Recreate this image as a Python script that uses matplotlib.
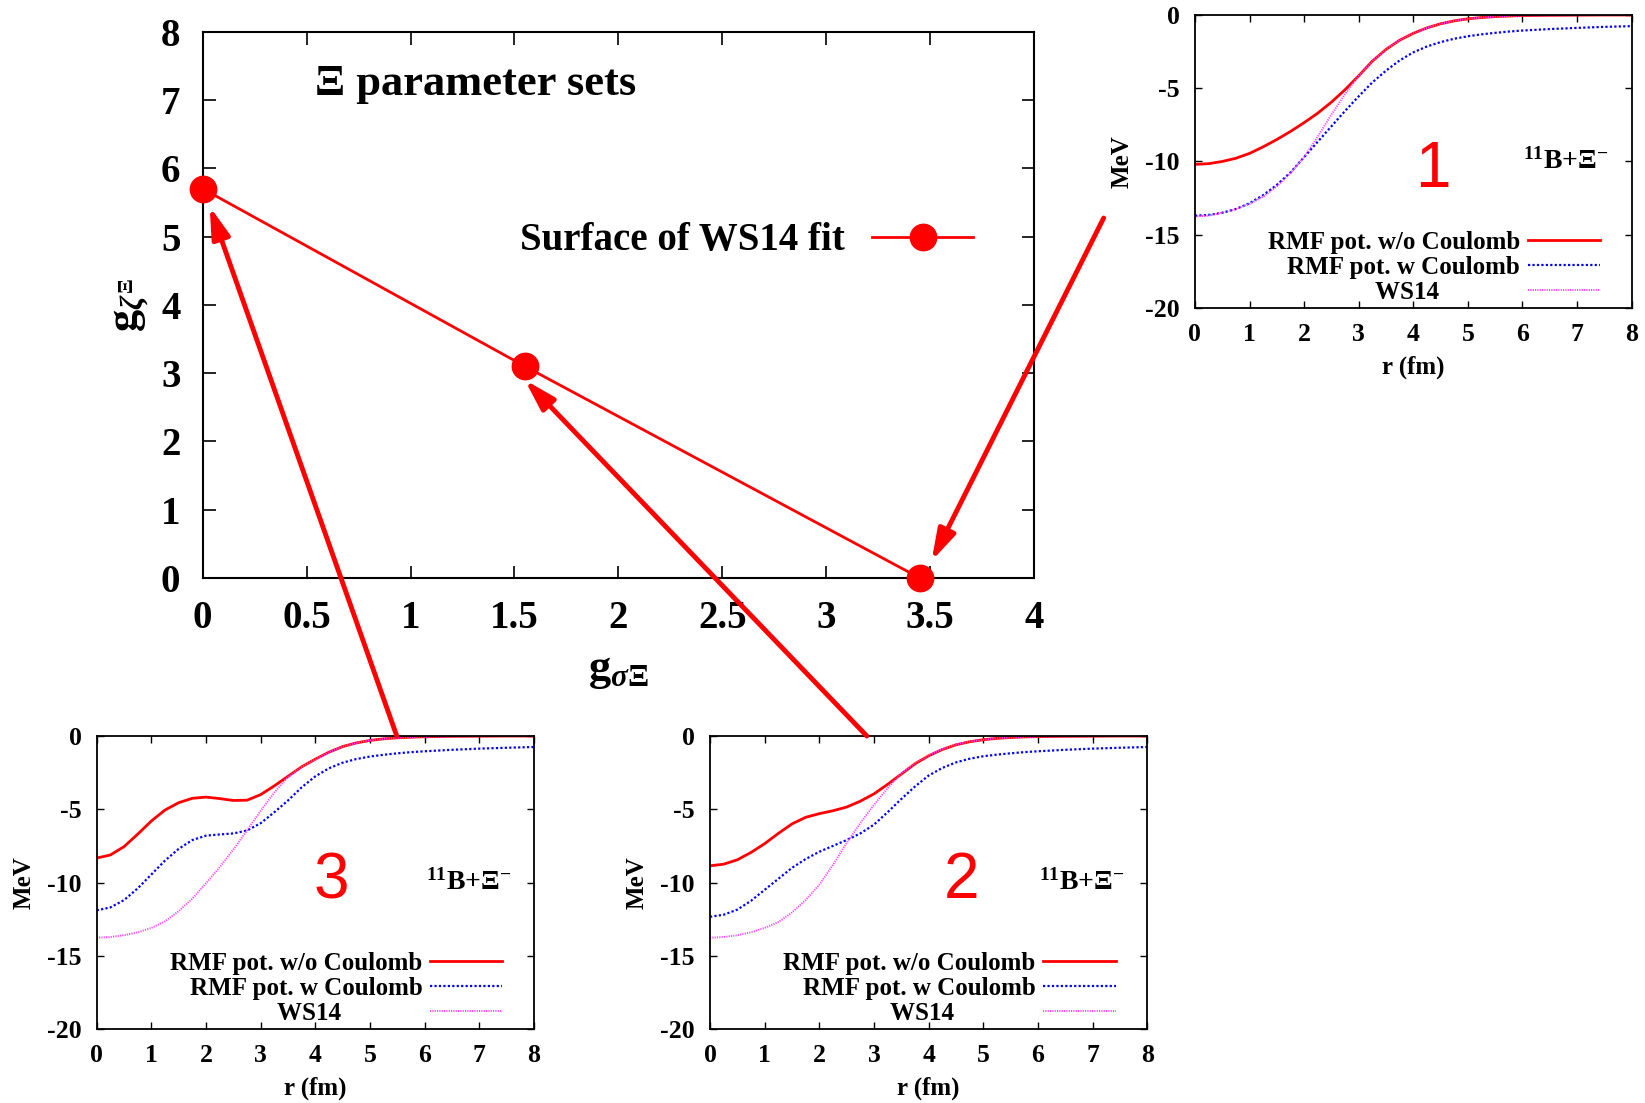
import numpy as np
import matplotlib
matplotlib.use("Agg")
import matplotlib.pyplot as plt
from matplotlib.patches import ConnectionPatch

plt.rcParams['font.family'] = ['Liberation Serif', 'DejaVu Serif']
plt.rcParams['font.weight'] = 'bold'
plt.rcParams['axes.labelweight'] = 'bold'
plt.rcParams['axes.unicode_minus'] = False
plt.rcParams['mathtext.fontset'] = 'custom'
plt.rcParams['mathtext.rm'] = 'Liberation Serif:bold'
plt.rcParams['mathtext.it'] = 'Liberation Serif:italic:bold'
plt.rcParams['mathtext.bf'] = 'Liberation Serif:bold'

# main panel: parameter sets on the WS14 surface
g_sigma = [0.0, 1.55, 3.45]
g_zeta = [5.7, 3.1, 0.0]

# radial grid for the potentials (fm)
r = [0, 0.25, 0.5, 0.75, 1.0, 1.25, 1.5, 1.75, 2.0, 2.25, 2.5, 2.75, 3.0,
     3.25, 3.5, 3.75, 4.0, 4.25, 4.5, 4.75, 5.0, 5.25, 5.5, 5.75, 6.0,
     6.5, 7.0, 7.5, 8.0]

# set 1
nocoul_1 = [-10.2, -10.15, -10.0, -9.78, -9.45, -9.0, -8.5, -7.95, -7.35, -6.7, -5.95, -5.1, -4.15,
            -3.15, -2.35, -1.72, -1.25, -0.88, -0.6, -0.4, -0.26, -0.17, -0.11, -0.07, -0.04,
            -0.02, -0.01, 0.0, 0.0]
coul_1 = [-13.7, -13.65, -13.5, -13.25, -12.85, -12.3, -11.6, -10.75, -9.7, -8.65, -7.6, -6.55, -5.55,
          -4.6, -3.8, -3.1, -2.55, -2.15, -1.85, -1.62, -1.45, -1.32, -1.22, -1.13, -1.06,
          -0.96, -0.88, -0.81, -0.76]
ws_1 = [-13.75, -13.7, -13.5, -13.25, -12.9, -12.4, -11.7, -10.8, -9.7, -8.3, -6.8, -5.4, -4.15,
        -3.15, -2.35, -1.72, -1.25, -0.88, -0.6, -0.4, -0.26, -0.17, -0.11, -0.07, -0.04,
        -0.02, -0.01, 0.0, 0.0]

# set 2
nocoul_2 = [-8.86, -8.75, -8.45, -7.95, -7.35, -6.65, -6.0, -5.55, -5.3, -5.1, -4.85, -4.45, -3.95,
            -3.3, -2.6, -1.9, -1.35, -0.92, -0.6, -0.39, -0.25, -0.16, -0.1, -0.06, -0.04,
            -0.02, -0.01, 0.0, 0.0]
coul_2 = [-12.34, -12.2, -11.85, -11.25, -10.5, -9.75, -9.0, -8.4, -7.9, -7.5, -7.1, -6.65, -6.05,
          -5.2, -4.3, -3.45, -2.7, -2.18, -1.8, -1.55, -1.38, -1.27, -1.18, -1.1, -1.04,
          -0.94, -0.86, -0.8, -0.75]
ws_2 = [-13.77, -13.72, -13.6, -13.4, -13.1, -12.7, -12.05, -11.2, -10.15, -8.8, -7.3, -5.95, -4.7,
        -3.55, -2.56, -1.85, -1.31, -0.9, -0.58, -0.38, -0.25, -0.16, -0.1, -0.06, -0.04,
        -0.02, -0.01, 0.0, 0.0]

# set 3
nocoul_3 = [-8.33, -8.12, -7.55, -6.7, -5.8, -5.05, -4.55, -4.25, -4.17, -4.27, -4.4, -4.38, -4.0,
            -3.4, -2.75, -2.1, -1.58, -1.1, -0.72, -0.47, -0.3, -0.19, -0.12, -0.08, -0.05,
            -0.02, -0.01, 0.0, 0.0]
coul_3 = [-11.9, -11.7, -11.2, -10.4, -9.45, -8.5, -7.7, -7.1, -6.8, -6.72, -6.65, -6.45, -5.95,
          -5.2, -4.4, -3.5, -2.75, -2.2, -1.82, -1.57, -1.4, -1.28, -1.18, -1.1, -1.04,
          -0.94, -0.86, -0.8, -0.75]
ws_3 = [-13.77, -13.72, -13.6, -13.4, -13.1, -12.65, -11.95, -11.1, -10.05, -8.95, -7.75, -6.45, -5.1,
        -3.85, -2.8, -2.1, -1.6, -1.1, -0.72, -0.48, -0.3, -0.19, -0.12, -0.08, -0.05,
        -0.02, -0.01, 0.0, 0.0]

labels = ["RMF pot. w/o Coulomb", "RMF pot. w Coulomb", "WS14" + " " * 13]

fig = plt.figure(figsize=(16.45, 11.03), dpi=100)

# ---- main panel
ax = fig.add_axes([0.1232, 0.476, 0.5054, 0.4953])
ax.plot(g_sigma, g_zeta, color='red', lw=2, marker='o', ms=19, clip_on=False,
        zorder=5, label='Surface of WS14 fit')
ax.set_xlim(0, 4)
ax.set_ylim(0, 8)
ax.set_xticks(np.arange(0, 4.01, 0.5))
ax.set_xticklabels(['0', '0.5', '1', '1.5', '2', '2.5', '3', '3.5', '4'])
ax.set_yticks(range(0, 9))
ax.tick_params(direction='in', top=True, right=True, length=9, width=1.2,
               labelsize=28, pad=16)
for s in ax.spines.values():
    s.set_linewidth(1.5)
ax.set_xlabel(r'$\mathrm{g}_{\sigma\Xi}$', fontsize=32, labelpad=10)
ax.set_ylabel(r'$\mathrm{g}_{\zeta^{\Xi}}$', fontsize=32, labelpad=8)
ax.text(0.135, 0.904, 'Ξ parameter sets', transform=ax.transAxes,
        fontsize=32, va='center', ha='left')
ax.legend(loc='center right', bbox_to_anchor=(0.927, 0.617), frameon=False,
          markerfirst=False, fontsize=28, handlelength=2.6, handletextpad=0.7,
          borderpad=0, borderaxespad=0)

# ---- insets
def inset(rect, nocoul, coul, ws, num, num_x, num_y):
    a = fig.add_axes(rect)
    a.plot(r, nocoul, color='red', lw=2, label=labels[0])
    a.plot(r, coul, color='blue', lw=1.6, ls=(0, (1, 1)), label=labels[1])
    a.plot(r, ws, color='#ff44ff', lw=1.4, ls=(0, (0.6, 0.6)), label=labels[2])
    a.set_xlim(0, 8)
    a.set_ylim(-20, 0)
    a.set_xticks(range(0, 9))
    a.set_yticks(range(-20, 1, 5))
    a.tick_params(direction='in', top=True, right=True, length=5, width=1,
                  labelsize=18.5, pad=11)
    for s in a.spines.values():
        s.set_linewidth(1.3)
    a.set_xlabel('r (fm)', fontsize=18, labelpad=7)
    a.set_ylabel('MeV', fontsize=18, labelpad=8)
    a.text(num_x, num_y, num, color='red', fontsize=46, family='Liberation Sans',
           fontweight='normal', ha='center', va='center')
    a.text(6.8, -10.0, r'$^{11}$B+Ξ$^{-}$', fontsize=20, ha='center', va='center')
    a.legend(loc='lower right', bbox_to_anchor=(0.928, 0.015), frameon=False,
             markerfirst=False, fontsize=18, handlelength=2.9, handletextpad=0.3,
             labelspacing=0.08, borderpad=0, borderaxespad=0)
    return a

ax1 = inset([0.7264, 0.7208, 0.2655, 0.2656], nocoul_1, coul_1, ws_1, '1', 4.35, -10.6)
ax2 = inset([0.4316, 0.0671, 0.2658, 0.2656], nocoul_2, coul_2, ws_2, '2', 4.6, -9.9)
ax3 = inset([0.0588, 0.0671, 0.2658, 0.2656], nocoul_3, coul_3, ws_3, '3', 4.3, -9.9)

# ---- arrows from each inset to its parameter set
arrow_kw = dict(arrowstyle='-|>,head_length=0.75,head_width=0.22', color='red',
                lw=3.5, mutation_scale=25, zorder=10)
fig.add_artist(ConnectionPatch(xyA=(-0.209, 0.307), coordsA=ax1.transAxes,
                               xyB=(3.507, 0.25), coordsB=ax.transData, **arrow_kw))
fig.add_artist(ConnectionPatch(xyA=(2.87, 0.0), coordsA=ax2.transData,
                               xyB=(1.55, 2.9), coordsB=ax.transData, **arrow_kw))
fig.add_artist(ConnectionPatch(xyA=(5.49, 0.0), coordsA=ax3.transData,
                               xyB=(0.034, 5.44), coordsB=ax.transData, **arrow_kw))

fig.savefig('out.png', dpi=100)
